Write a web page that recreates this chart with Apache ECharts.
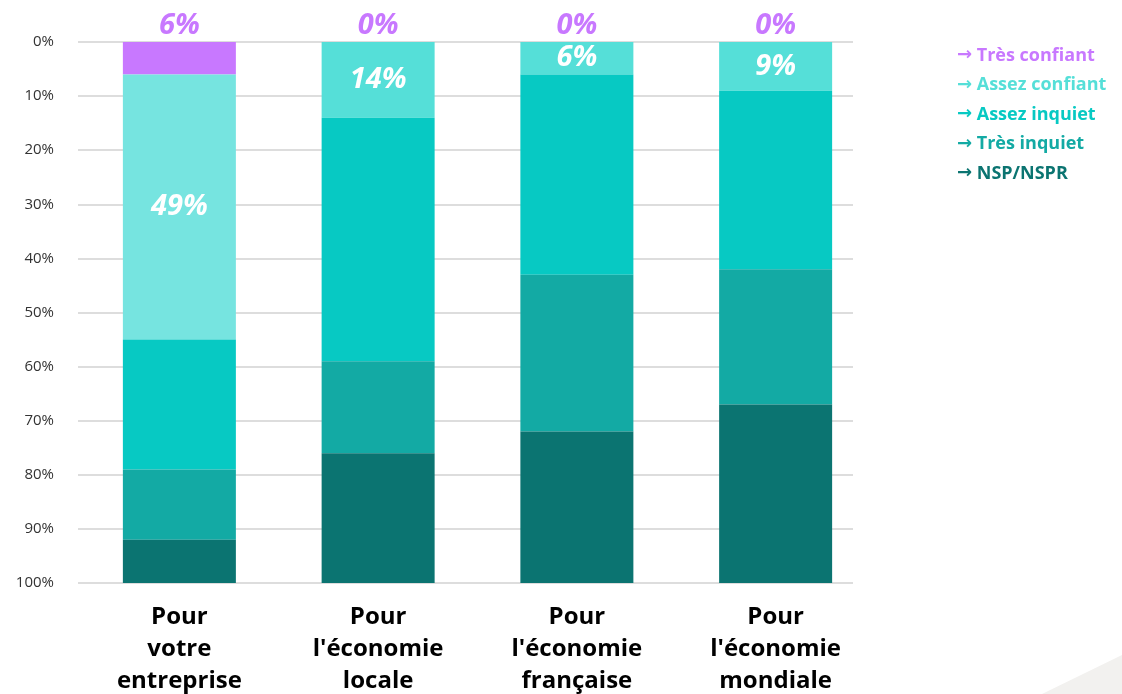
<!DOCTYPE html>
<html>
<head>
<meta charset="utf-8">
<script src="https://cdn.jsdelivr.net/npm/echarts@6/dist/echarts.min.js"></script>
<style>
  html, body { margin: 0; padding: 0; background: #fff; }
  #chart { width: 1122px; height: 694px; }
</style>
</head>
<body>
<div id="chart"></div>
<script>
  // categories and values (percent)
  var categories = ['Pour\nvotre\nentreprise', "Pour\nl'économie\nlocale", "Pour\nl'économie\nfrançaise", "Pour\nl'économie\nmondiale"];
  var seriesNames = ['Très confiant', 'Assez confiant', 'Assez inquiet', 'Très inquiet', 'NSP/NSPR'];
  var tresConfiant = [6, 0, 0, 0];
  var assezConfiant = [49, 14, 6, 9];
  var assezInquiet = [24, 45, 37, 33];
  var tresInquiet = [13, 17, 29, 25];
  var nsp = [8, 24, 28, 33];
  var yTicks = [0, 10, 20, 30, 40, 50, 60, 70, 80, 90, 100];

  var colors = ['#c878ff', '#55dfd8', '#07c9c3', '#13aaa4', '#0b7471'];
  var font = '"Open Sans", "Noto Sans", sans-serif';

  var chart = echarts.init(document.getElementById('chart'));

  var option = {
    animation: false,
    color: colors,
    grid: [
      // bars
      { left: 80, right: 247, top: 42, bottom: 111, outerBoundsMode: 'none', containLabel: false },
      // gridlines + percent labels
      { left: 78, right: 269, top: 42, bottom: 111, outerBoundsMode: 'none', containLabel: false }
    ],
    legend: {
      orient: 'vertical',
      left: 947,
      top: 40,
      itemGap: 8.5,
      icon: 'none',
      itemWidth: 0,
      itemHeight: 0,
      selectedMode: false,
      formatter: function (name) { return '{a|→} ' + name; },
      textStyle: {
        fontFamily: font, fontWeight: 'bold', fontSize: 18, lineHeight: 21,
        rich: {
          a: { fontFamily: '"DejaVu Sans"', fontWeight: 'bold', fontSize: 18 }
        }
      },
      data: seriesNames.map(function (n, i) {
        return { name: n, textStyle: { color: colors[i], rich: { a: { color: colors[i] } } } };
      })
    },
    xAxis: [
      {
        type: 'category',
        gridIndex: 0,
        data: categories,
        axisLine: { show: false },
        axisTick: { show: false },
        axisLabel: {
          color: '#000',
          fontFamily: font,
          fontWeight: 'bold',
          fontSize: 24,
          lineHeight: 32,
          margin: 18
        }
      },
      { type: 'value', gridIndex: 1, show: false, min: 0, max: 1 }
    ],
    yAxis: [
      {
        type: 'value',
        gridIndex: 0,
        inverse: true,
        min: 0,
        max: 100,
        interval: 10,
        show: false
      },
      {
        type: 'value',
        gridIndex: 1,
        inverse: true,
        min: 0,
        max: 100,
        interval: 10,
        axisLine: { show: false },
        axisTick: { show: false },
        splitLine: { lineStyle: { color: '#dddddd', width: 2 } },
        axisLabel: {
          color: '#333',
          fontFamily: font,
          fontSize: 15,
          margin: 24,
          formatter: function (v) { return yTicks.indexOf(v) >= 0 ? v + '%' : ''; }
        }
      }
    ],
    series: [
      {
        name: seriesNames[0], type: 'bar', stack: 'a', barWidth: 113,
        data: tresConfiant,
        z: 3,
        label: {
          show: true, position: 'top', distance: 2,
          formatter: '{c}%', color: '#c878ff',
          fontFamily: font, fontWeight: 'bold', fontStyle: 'italic', fontSize: 29
        }
      },
      {
        name: seriesNames[1], type: 'bar', stack: 'a', z: 3,
        data: assezConfiant.map(function (v, i) {
          return i === 0 ? { value: v, itemStyle: { color: '#76e4e0' } } : v;
        }),
        label: {
          show: true, position: 'inside',
          formatter: '{c}%', color: '#fff',
          fontFamily: font, fontWeight: 'bold', fontStyle: 'italic', fontSize: 29
        }
      },
      { name: seriesNames[2], type: 'bar', stack: 'a', z: 3, data: assezInquiet },
      { name: seriesNames[3], type: 'bar', stack: 'a', z: 3, data: tresInquiet },
      { name: seriesNames[4], type: 'bar', stack: 'a', z: 3, data: nsp }
    ],
    graphic: [
      {
        type: 'polygon',
        silent: true,
        shape: { points: [[1122, 655], [1122, 694], [1042, 694]] },
        style: { fill: '#f2f1ef' }
      }
    ]
  };

  chart.setOption(option);
</script>
</body>
</html>
